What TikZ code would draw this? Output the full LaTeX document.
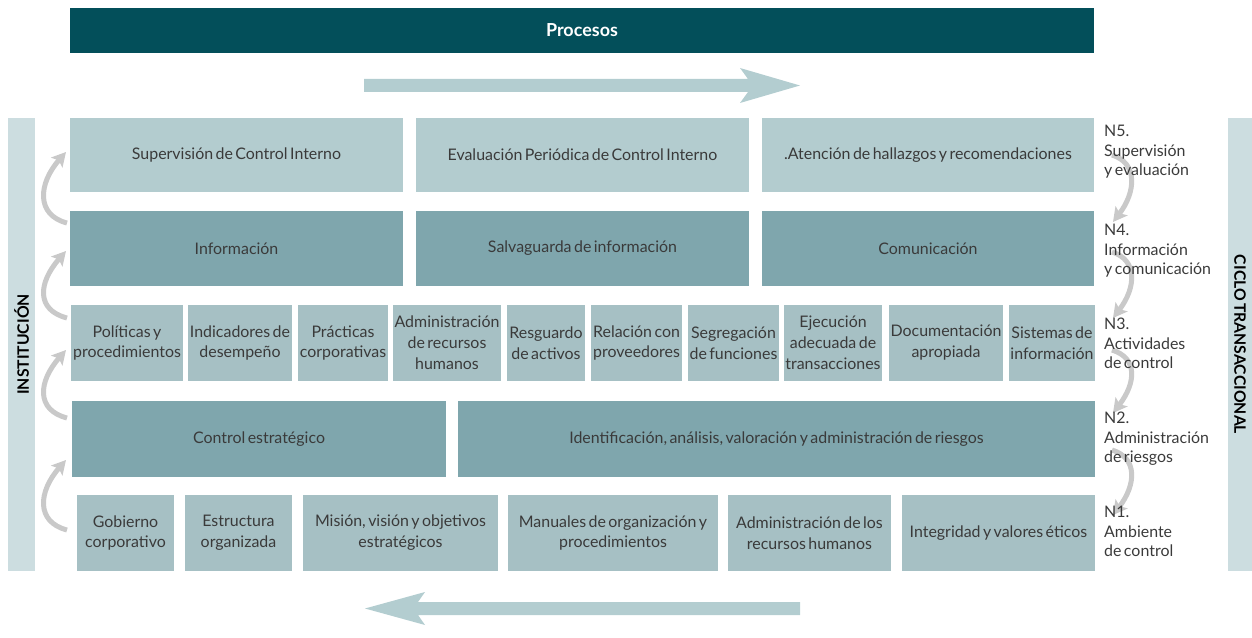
\documentclass[tikz,border=0pt]{standalone}
\usepackage{fontspec}
\setmainfont{Lato}[WordSpace=0.6]
\usetikzlibrary{arrows.meta}

\definecolor{banner}{HTML}{034F5A}
\definecolor{rowlight}{HTML}{B3CCCF}
\definecolor{rowdark}{HTML}{7FA6AD}
\definecolor{rowmid}{HTML}{A6C0C4}
\definecolor{sidebar}{HTML}{CCDDE0}
\definecolor{flow}{HTML}{B3CDD0}
\definecolor{curl}{HTML}{C9C9C9}
\definecolor{ink}{HTML}{3A3A3A}

\begin{document}
\begin{tikzpicture}[x=1bp,y=-1bp,
  cell/.style={inner sep=0pt, align=center, text=ink,
    font=\fontsize{16}{21}\selectfont},
  light/.style={cell, fill=rowlight, minimum height=74bp},
  dark/.style={cell, fill=rowdark, minimum height=75bp},
  mid/.style={cell, fill=rowmid, minimum height=76bp},
  sidelabel/.style={inner sep=0pt, align=left, text=ink, anchor=north west,
    font=\fontsize{16}{19.5}\selectfont},
  upcurl/.style={draw=curl, line width=5bp,
    -{Stealth[length=14bp,width=15bp,inset=3bp]}},
  downcurl/.style={draw=curl, line width=5bp,
    -{Stealth[length=14bp,width=15bp,inset=3bp]}},
  vtitle/.style={inner sep=0pt, text=black, font=\fontsize{15.8}{18}\selectfont\bfseries}
]
\useasboundingbox (0,0) rectangle (1252,638);

% header banner
\node[fill=banner, minimum width=1024bp, minimum height=45bp, inner sep=0pt,
  text=white, font=\fontsize{18}{20}\selectfont\bfseries] (procesos) at (582,30.5) {Procesos};

% process direction arrows
\fill[flow] (364,79) -- (748,79) -- (740,68) -- (800,85.5) -- (740,103)
  -- (748,92) -- (364,92) -- cycle;
\fill[flow] (800,602) -- (418,602) -- (425,592) -- (365,608.5) -- (425,625)
  -- (418,615) -- (800,615) -- cycle;

% side bars
\node[fill=sidebar, minimum width=27bp, minimum height=453bp, inner sep=0pt] (instbar) at (21.5,344.5) {};
\node[fill=sidebar, minimum width=24bp, minimum height=453bp, inner sep=0pt] (ciclobar) at (1240,344.5) {};
\node[vtitle, rotate=90] (inst) at (instbar.center) {INSTITUCIÓN};
\node[vtitle, rotate=-90] (ciclo) at (ciclobar.center) {CICLO TRANSACCIONAL};

% level 5
\node[light, minimum width=333bp] (sup) at (236.5,155) {Supervisión de Control Interno};
\node[light, minimum width=333bp] (eva) at (582.5,155) {Evaluación Periódica de Control Interno};
\node[light, minimum width=332bp] (ate) at (928,155) {.Atención de hallazgos y recomendaciones};

% level 4
\node[dark, minimum width=333bp] (inf) at (236.5,248.5) {Información};
\node[dark, minimum width=333bp] (sal) at (582.5,248.5) {Salvaguarda de información};
\node[dark, minimum width=332bp] (com) at (928,248.5) {Comunicación};

% level 3
\node[mid, minimum width=112bp] (pol) at (127,343) {Políticas y\\procedimientos};
\node[mid, minimum width=104bp] (ind) at (240,343) {Indicadores de\\desempeño};
\node[mid, minimum width=90bp] (pra) at (343,343) {Prácticas\\corporativas};
\node[mid, minimum width=108bp] (arh) at (447,343) {Administración\\de recursos\\humanos};
\node[mid, minimum width=78bp] (res) at (546,343) {Resguardo\\de activos};
\node[mid, minimum width=91bp] (rel) at (636.5,343) {Relación con\\proveedores};
\node[mid, minimum width=91bp] (seg) at (733.5,343) {Segregación\\de funciones};
\node[mid, minimum width=98bp] (eje) at (833,343) {Ejecución\\adecuada de\\transacciones};
\node[mid, minimum width=114bp] (doc) at (946,343) {Documentación\\apropiada};
\node[mid, minimum width=86bp] (sis) at (1052,343) {Sistemas de\\información};

% level 2
\node[dark, minimum height=76bp, minimum width=374bp] (est) at (259,439) {Control estratégico};
\node[dark, minimum height=76bp, minimum width=637bp] (rie) at (776.5,439) {Identificación, análisis, valoración y administración de riesgos};

% level 1
\node[mid, minimum width=97bp] (gob) at (125.5,533) {Gobierno\\corporativo};
\node[mid, minimum width=107bp] (estr) at (238.5,533) {Estructura\\organizada};
\node[mid, minimum width=195bp] (mis) at (400.5,533) {Misión, visión y objetivos\\estratégicos};
\node[mid, minimum width=210bp] (man) at (613,533) {Manuales de organización y\\procedimientos};
\node[mid, minimum width=163bp] (adm) at (809.5,533) {Administración de los\\recursos humanos};
\node[mid, minimum width=193bp] (int) at (998.5,533) {Integridad y valores éticos};

% upward loop on the institution side
\foreach \t/\h [count=\i] in {223/152, 318/251, 418/350, 530/460}{
  \coordinate (up\i a) at (67,\t);
  \coordinate (up\i b) at (66,\h);
  \draw[upcurl] (up\i a) .. controls (36,\t-8) and (38,\h+32) .. (up\i b);
}

% downward loop on the transactional side
\foreach \s/\e [count=\i] in {155/222, 252/318, 350/413, 450/515}{
  \coordinate (dn\i a) at (1112,\s);
  \coordinate (dn\i b) at (1113,\e);
  \draw[downcurl] (dn\i a) .. controls (1138,\s+8) and (1136,\e-30) .. (dn\i b);
}

% level labels
\node[sidelabel] (n5) at (1104,125) {N5.\\Supervisión\\y evaluación};
\node[sidelabel] (n4) at (1104,224) {N4.\\Información\\y comunicación};
\node[sidelabel] (n3) at (1104,318) {N3.\\Actividades\\de control};
\node[sidelabel] (n2) at (1104,412) {N2.\\Administración\\de riesgos};
\node[sidelabel] (n1) at (1104,506) {N1.\\Ambiente\\de control};

\end{tikzpicture}
\end{document}
